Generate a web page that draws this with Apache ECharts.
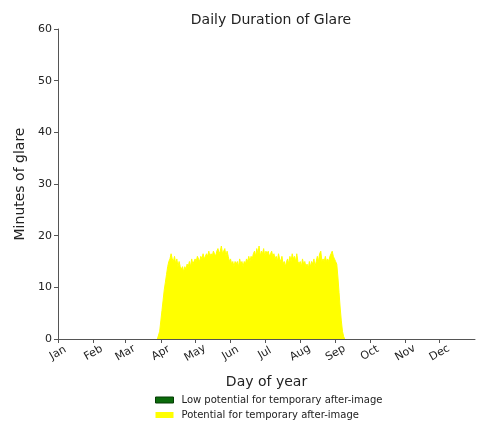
<!DOCTYPE html>
<html>
<head>
<meta charset="utf-8">
<script src="https://cdn.jsdelivr.net/npm/echarts@6/dist/echarts.min.js"></script>
<style>html,body{margin:0;padding:0;background:#fff;}#c{width:479px;height:425px;}</style>
</head>
<body>
<div id="c"></div>
<script>
// Month tick labels and their day-of-year positions (0-based)
const monthLabels = ['Jan','Feb','Mar','Apr','May','Jun','Jul','Aug','Sep','Oct','Nov','Dec'];
const monthStarts = [0,31,59,90,120,151,181,212,243,273,304,334];
const yTicks = [0,10,20,30,40,50,60];

// Potential for temporary after-image: daily minutes, starting at glareStartDay
const glareStartDay = 87;
const glareMinutes = [
  0, 0, 1.5, 3.5, 5.5, 7.5, 9.5, 11, 12.5, 14, 15, 15.5, 16.5, 15.5,
  15, 16, 14.5, 15.5, 14, 15, 14, 13.5, 14, 13,
  14, 13.5, 14.5, 14, 15, 14, 15.5, 14.5, 15, 15.5,
  15, 16, 15.5, 15, 16, 15.5, 16.5, 15.5, 16, 16.5,
  16, 17, 16, 16.5, 16, 17, 16.5, 16, 17, 17.5,
  16.5, 17, 18, 16.5, 17, 17.5, 16, 17, 16, 15,
  15.5, 14.5, 15, 14, 15, 14.5, 15, 14, 15.5, 14.5,
  15, 14, 15, 14.5, 15.5, 15, 16, 15, 16, 15.5,
  16.5, 17, 16, 17.5, 16.5, 18, 16, 17, 16.5, 17.5,
  16, 17, 16.5, 17, 16, 16.5, 17, 16, 16.5, 15.5,
  16, 15, 16.5, 15.5, 15, 16, 14.5, 15, 14, 15,
  15.5, 14.5, 16, 15, 16.5, 15.5, 16, 15, 16.5, 15,
  14.5, 15, 14, 15.5, 14.5, 15, 14, 14.5, 13.5, 15,
  14, 15, 14.5, 15.5, 14, 15, 16, 15, 16.5, 17,
  15, 15.5, 15, 16, 15, 15.5, 15, 16, 16.5, 17,
  16, 15.5, 15, 14.5, 12, 9, 6, 3.5, 1.5, 0.5, 0
];
// Low potential for temporary after-image: no glare minutes recorded
const lowPotentialMinutes = [];

const glareData = glareMinutes.map((v, i) => [glareStartDay + i, v]);

const font = 'DejaVu Sans';
const chart = echarts.init(document.getElementById('c'), null, {renderer: 'canvas'});
chart.setOption({
  animation: false,
  backgroundColor: '#ffffff',
  textStyle: {fontFamily: font},
  title: {
    text: 'Daily Duration of Glare',
    left: 266, top: 8, textAlign: 'center',
    textStyle: {fontFamily: font, fontSize: 14, fontWeight: 'normal', color: '#222'}
  },
  grid: {left: 58, right: 4, top: 29, bottom: 86},
  legend: {
    orient: 'vertical', left: 155, top: 394, padding: 0,
    itemWidth: 18, itemHeight: 6, itemGap: 3,
    textStyle: {fontFamily: font, fontSize: 10, lineHeight: 12, color: '#222', padding: [0, 0, 0, 3]},
    data: [
      {name: 'Low potential for temporary after-image', icon: 'rect', itemStyle: {color: '#0b6b0b', borderColor: '#053d05', borderWidth: 1}},
      {name: 'Potential for temporary after-image', icon: 'rect', itemStyle: {color: '#ffff00'}}
    ]
  },
  xAxis: {
    type: 'value', min: 0, max: 365,
    name: 'Day of year', nameLocation: 'middle', nameGap: 36,
    nameTextStyle: {fontFamily: font, fontSize: 14, color: '#222'},
    axisLine: {show: true, lineStyle: {color: '#555', width: 1}},
    axisTick: {show: true, length: 4, customValues: monthStarts, lineStyle: {color: '#555'}},
    axisLabel: {
      customValues: monthStarts, rotate: 30, fontSize: 11, color: '#222', margin: 14,
      align: 'center', verticalAlign: 'middle',
      formatter: v => monthLabels[monthStarts.indexOf(v)] || ''
    },
    splitLine: {show: false}
  },
  yAxis: {
    type: 'value', min: 0, max: 60, interval: 10,
    name: 'Minutes of glare', nameLocation: 'middle', nameGap: 31,
    nameTextStyle: {fontFamily: font, fontSize: 14, color: '#222'},
    axisLine: {show: true, lineStyle: {color: '#555', width: 1}},
    axisTick: {show: true, length: 4, lineStyle: {color: '#555'}},
    axisLabel: {fontSize: 11, color: '#222', margin: 6},
    splitLine: {show: false}
  },
  series: [
    {
      name: 'Low potential for temporary after-image', type: 'line', stack: 'g',
      data: lowPotentialMinutes, showSymbol: false,
      itemStyle: {color: '#0b6b0b'}, lineStyle: {width: 0}, areaStyle: {color: '#0b6b0b', opacity: 1}
    },
    {
      name: 'Potential for temporary after-image', type: 'line',
      data: glareData, showSymbol: false, symbol: 'none',
      itemStyle: {color: '#ffff00'},
      lineStyle: {color: '#ffff00', width: 1},
      areaStyle: {color: '#ffff00', opacity: 1},
      z: 1
    }
  ]
});
</script>
</body>
</html>
